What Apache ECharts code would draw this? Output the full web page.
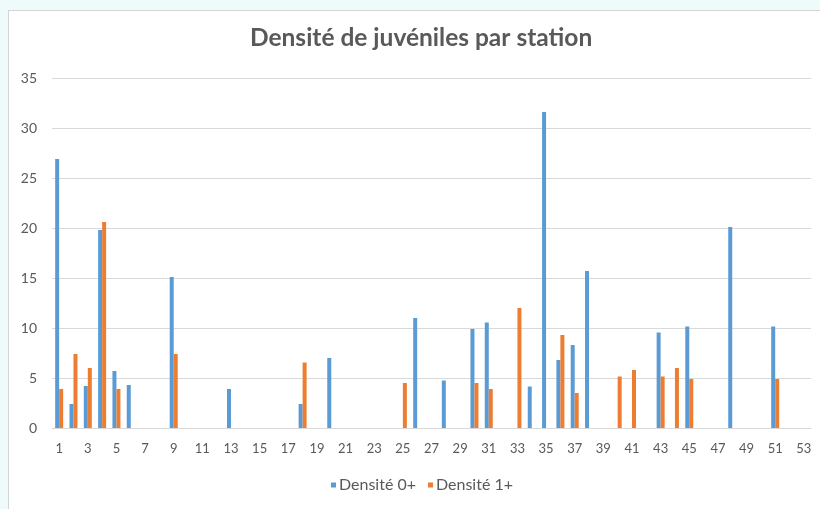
<!DOCTYPE html>
<html>
<head>
<meta charset="utf-8">
<script src="https://cdn.jsdelivr.net/npm/echarts@6/dist/echarts.min.js"></script>
<style>
  html, body { margin: 0; padding: 0; background: #effbfb; }
  #box { position: absolute; left: 8px; top: 10px; width: 820px; height: 510px; background: #ffffff; border-left: 1px solid #d4d4d4; border-top: 1px solid #d4d4d4; }
  #chart { position: absolute; left: 0; top: 0; width: 820px; height: 509px; }
</style>
</head>
<body>
<div id="box"></div>
<div id="chart"></div>
<script>
const titleText = 'Densité de juvéniles par station';
const seriesNames = ['Densité 0+', 'Densité 1+'];
const categories = [];
for (let i = 1; i <= 53; i++) categories.push(String(i));

// station -> value
const stations0 = [1, 2, 3, 4, 5, 6, 9, 13, 18, 20, 26, 28, 30, 31, 34, 35, 36, 37, 38, 43, 45, 48, 51];
const values0   = [26.9, 2.4, 4.2, 19.8, 5.7, 4.3, 15.1, 3.9, 2.4, 7.0, 11.0, 4.75, 9.9, 10.55, 4.15, 31.6, 6.8, 8.3, 15.7, 9.55, 10.15, 20.1, 10.15];
const stations1 = [1, 2, 3, 4, 5, 9, 18, 25, 30, 31, 33, 36, 37, 40, 41, 43, 44, 45, 51];
const values1   = [3.9, 7.4, 6.0, 20.6, 3.9, 7.4, 6.55, 4.5, 4.5, 3.9, 12.0, 9.3, 3.5, 5.15, 5.8, 5.15, 6.0, 4.9, 4.9];

function toSeries(stations, values) {
  const arr = categories.map(() => null);
  stations.forEach((s, i) => { arr[s - 1] = values[i]; });
  return arr;
}

const chart = echarts.init(document.getElementById('chart'), null, { renderer: 'canvas' });
const font = 'Lato, "Open Sans", sans-serif';
chart.setOption({
  backgroundColor: 'transparent',
  animation: false,
  title: {
    text: titleText,
    left: 250,
    top: 26,
    padding: 0,
    textStyle: { fontFamily: font, fontSize: 24.5, fontWeight: 'bold', color: '#595959' }
  },
  legend: {
    data: seriesNames,
    bottom: 16,
    left: 331,
    padding: 0,
    icon: 'rect',
    itemWidth: 5,
    itemHeight: 5,
    itemGap: 12,
    textStyle: { fontFamily: font, fontSize: 16, color: '#595959', padding: [0, 0, 0, -2] }
  },
  grid: { left: 52, right: 9, top: 78, bottom: 81, containLabel: false },
  xAxis: {
    type: 'category',
    data: categories,
    axisLine: { lineStyle: { color: '#d9d9d9', width: 1 } },
    axisTick: { show: false },
    axisLabel: { interval: 1, margin: 14, fontFamily: font, fontSize: 13, color: '#595959' }
  },
  yAxis: {
    type: 'value',
    min: 0,
    max: 35,
    interval: 5,
    axisLine: { show: false },
    axisTick: { show: false },
    splitLine: { lineStyle: { color: '#d9d9d9', width: 1 } },
    axisLabel: { margin: 15, fontFamily: font, fontSize: 14, color: '#595959' }
  },
  series: [
    { name: seriesNames[0], type: 'bar', data: toSeries(stations0, values0), barWidth: 4, barGap: '0%', itemStyle: { color: '#5b9bd5' } },
    { name: seriesNames[1], type: 'bar', data: toSeries(stations1, values1), barWidth: 4, barGap: '0%', itemStyle: { color: '#ed7d31' } }
  ]
});
</script>
</body>
</html>
